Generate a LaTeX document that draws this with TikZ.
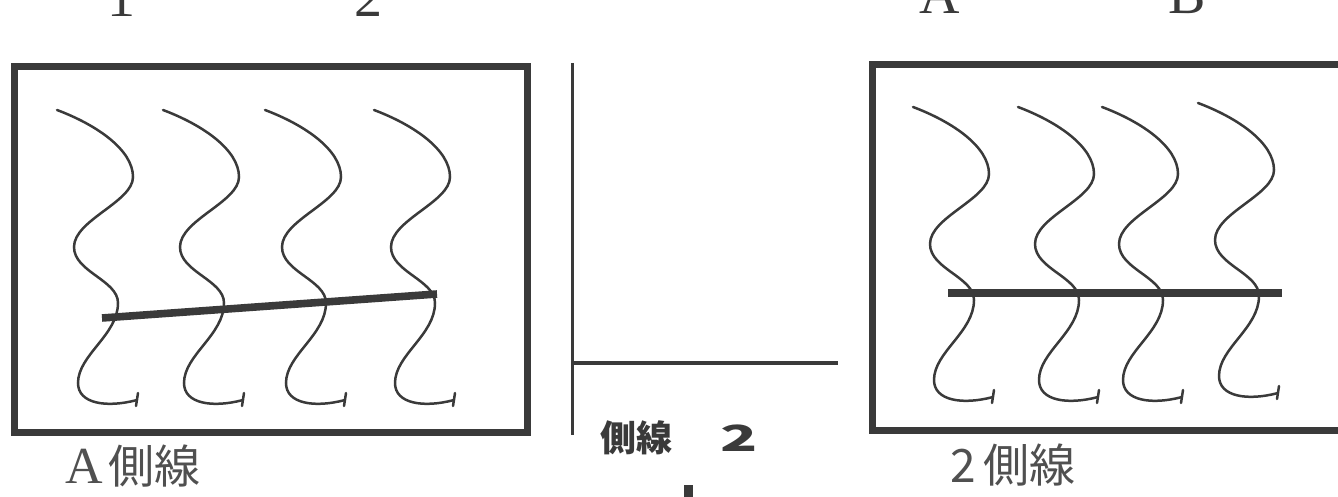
\documentclass[tikz,border=0pt]{standalone}
\usepackage{fontspec}
\usepackage{graphicx}
\setmainfont{Liberation Serif}
\newfontfamily\jp{Noto Sans CJK JP}
\definecolor{ink}{HTML}{3A3A3A}
\definecolor{print}{HTML}{505050}

\begin{document}
\begin{tikzpicture}[x=0.5pt,y=-0.5pt,
  frame/.style={draw=ink,line width=3.5pt},
  hair/.style={draw=ink,line width=1.25pt,line cap=round},
  crossbar/.style={draw=ink,line width=3.8pt},
  rule/.style={draw=ink,line width=1.5pt},
  caption/.style={text=print,inner sep=0pt,anchor=west,font=\fontsize{23}{23}\selectfont},
  toplabel/.style={text=ink,inner sep=0pt,anchor=base,font=\fontsize{28}{28}\selectfont},
  squiggle/.pic={
    \draw[hair] (0,0) .. controls (40,15) and (76,40) .. (76,67)
      .. controls (76,92) and (17,110) .. (17,137)
      .. controls (17,162) and (61,170) .. (61,193)
      .. controls (61,225) and (21,245) .. (21,273)
      .. controls (21,294) and (50,298) .. (80,290);
    \draw[hair] (79,296) -- (81,283);
  }]
\useasboundingbox (0,0) rectangle (1338,497);
\clip (0,0) rectangle (1338,497);

% column labels along the top edge
\node[toplabel] (one) at (121,17) {1};
\node[toplabel] (two) at (368,17) {2};
\node[toplabel] (colA) at (940,14) {A};
\node[toplabel] (colB) at (1187,14) {B};

% left panel
\draw[frame] (14,67) rectangle (527,432);
\foreach \sx in {57,163,265,374} \pic at (\sx,110) {squiggle};
\draw[crossbar] (102,318) -- (437,294);
\node[caption] (leftcap) at (65,466) {{\fontsize{26}{26}\selectfont A}\hspace{3pt}{\jp 側線}};

% middle: corner lines
\draw[rule] (572,63) -- (572,435);
\draw[draw=ink,line width=2pt] (572,363) -- (838,363);
\node[inner sep=0pt,anchor=west,text=ink,font=\jp\bfseries\fontsize{18}{18}\selectfont] (midcap) at (600,438)
  {側線\hspace{24pt}\scalebox{1.7}[1]{2}};
\fill[ink] (684,485) rectangle (693,500);

% right panel
\draw[frame] (872,65) rectangle (1380,430);
\foreach \sx in {913,1018,1102} \pic at (\sx,107) {squiggle};
\begin{scope}[shift={(1198,103)},yscale=1.07]
  \pic at (0,0) {squiggle};
\end{scope}
\draw[crossbar] (948,293) -- (1282,293);
\node[caption] (rightcap) at (950,465) {{\jp 2}\hspace{4pt}{\jp 側線}};
\end{tikzpicture}
\end{document}
